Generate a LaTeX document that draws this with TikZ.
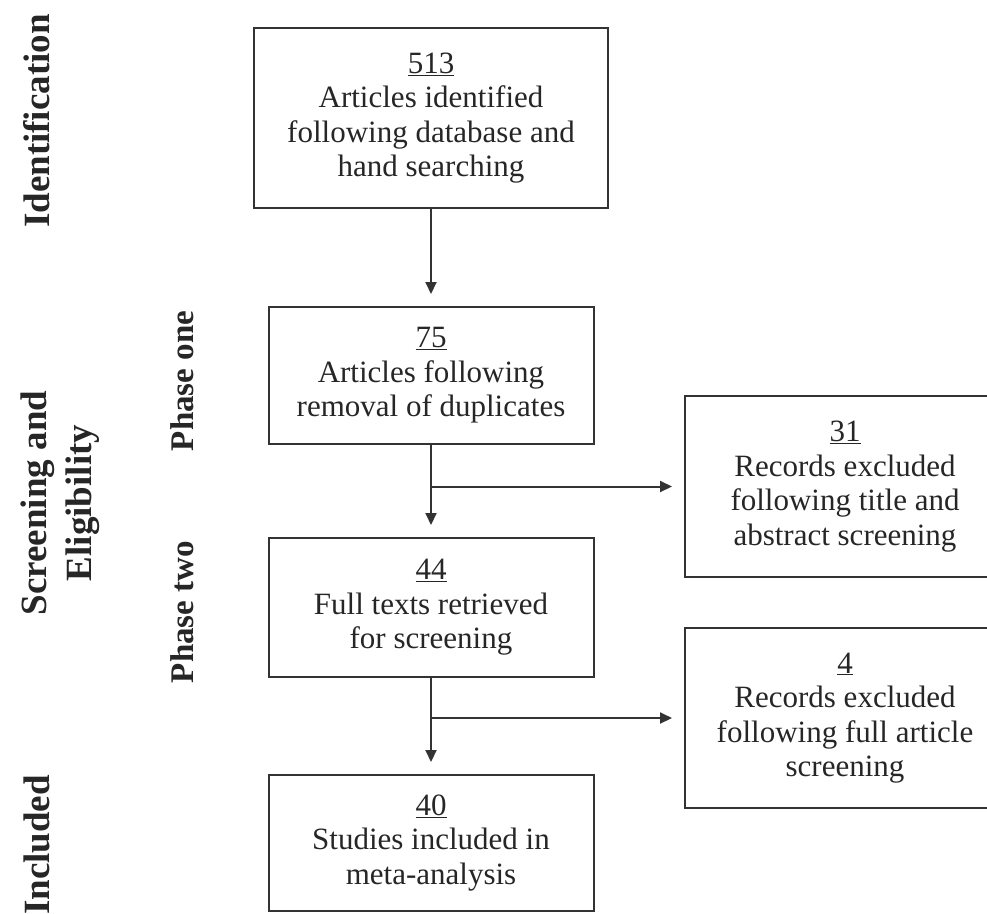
\documentclass[tikz,border=0pt]{standalone}
\usepackage{fontspec}
\setmainfont{Liberation Serif}
\usetikzlibrary{arrows.meta}

\tikzset{
  box/.style={draw=black!80,line width=2pt,inner sep=0pt,align=center,text=black!85,
    font=\fontsize{31}{34.5}\selectfont},
  arr/.style={draw=black!80,line width=2pt,-{Triangle[length=12pt,width=11pt]},shorten >=12pt},
  stage/.style={rotate=90,inner sep=0pt,align=center,text=black!85,
    font=\bfseries\fontsize{37}{45}\selectfont},
  phase/.style={rotate=90,inner sep=0pt,text=black!85,
    font=\bfseries\fontsize{33}{38}\selectfont}
}

\begin{document}
\begin{tikzpicture}[x=1pt,y=-1pt]

\clip (0,0) rectangle (987,913);

% stages on the left
\node[stage] (ident) at (37,121) {Identification};
\node[stage] (screen) at (60,503) {Screening and\\Eligibility};
\node[stage] (incl) at (37,845) {Included};
\node[phase] (one) at (182,381) {Phase one};
\node[phase] (two) at (182,612) {Phase two};

% main column
\node[box,minimum width=354,minimum height=180] (found) at (431,118)
  {\underline{513}\\Articles identified\\following database and\\hand searching};
\node[box,minimum width=325,minimum height=137] (dedup) at (431,375.5)
  {\underline{75}\\Articles following\\removal of duplicates};
\node[box,minimum width=325,minimum height=139] (full) at (431,607.5)
  {\underline{44}\\Full texts retrieved\\for screening};
\node[box,minimum width=325,minimum height=136] (meta) at (431,843)
  {\underline{40}\\Studies included in\\meta-analysis};

% exclusions
\node[box,minimum width=320,minimum height=181] (excla) at (845,486.5)
  {\underline{31}\\Records excluded\\following title and\\abstract screening};
\node[box,minimum width=320,minimum height=180] (exclb) at (845,718)
  {\underline{4}\\Records excluded\\following full article\\screening};

\coordinate (ja) at (dedup.south |- excla.west);
\coordinate (jb) at (full.south |- exclb.west);

\draw[arr] (found) -- (dedup);
\draw[arr] (dedup) -- (full);
\draw[arr] (full) -- (meta);
\draw[arr] (ja) -- (excla);
\draw[arr] (jb) -- (exclb);

\end{tikzpicture}
\end{document}
